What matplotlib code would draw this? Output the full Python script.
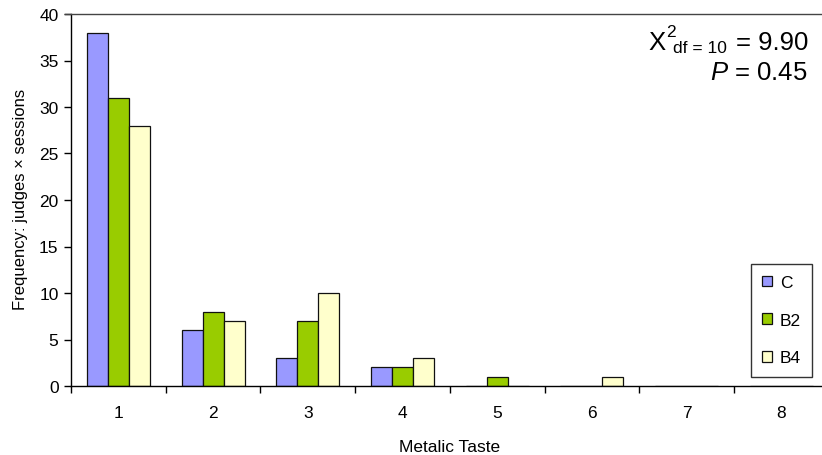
import matplotlib
matplotlib.use("Agg")
import matplotlib.pyplot as plt
from matplotlib.patches import Patch
from matplotlib.lines import Line2D
import numpy as np

plt.rcParams['font.family'] = ['Liberation Sans', 'DejaVu Sans']
plt.rcParams['mathtext.fontset'] = 'custom'
plt.rcParams['mathtext.rm'] = 'Liberation Sans'
plt.rcParams['mathtext.it'] = 'Liberation Sans:italic'
plt.rcParams['mathtext.default'] = 'regular'

categories = [1, 2, 3, 4, 5, 6, 7, 8]
series_names = ['C', 'B2', 'B4']
values_c = [38, 6, 3, 2, 0, 0, 0, 0]
values_b2 = [31, 8, 7, 2, 1, 0, 0, 0]
values_b4 = [28, 7, 10, 3, 0, 1, 0, 0]
colors = ['#9999FF', '#99CC00', '#FFFFCC']
y_ticks = [0, 5, 10, 15, 20, 25, 30, 35, 40]

W, H = 822, 456
fig = plt.figure(figsize=(W / 100, H / 100), dpi=100)


def fx(px):
    return px / W


def fy(py):
    return 1 - py / H


left_px, right_px, top_px, bottom_px = 71, 828.7, 15, 387
ax = fig.add_axes([fx(left_px), fy(bottom_px),
                   (right_px - left_px) / W, (bottom_px - top_px) / H])

x = np.arange(len(categories)) + 1
bw = 0.222
for i, (vals, col) in enumerate(zip([values_c, values_b2, values_b4], colors)):
    ax.bar(x + (i - 1) * bw, vals, width=bw, color=col,
           edgecolor='#111111', linewidth=0.9, zorder=3)

ax.set_xlim(0.5, len(categories) + 0.5)
ax.set_ylim(0, 40)
ax.set_yticks(y_ticks)
ax.set_xticks(x)
ax.set_xticklabels([str(c) for c in categories])
ax.set_xticks(np.arange(len(categories) + 1) + 0.5, minor=True)

for s in ['top', 'right']:
    ax.spines[s].set_visible(False)
for s in ['left', 'bottom']:
    ax.spines[s].set_color('#000000')
    ax.spines[s].set_linewidth(1.0)
    ax.spines[s].set_zorder(4)

ax.tick_params(axis='y', direction='out', length=5, width=1, pad=4,
               labelsize=12.5, colors='#000000')
ax.tick_params(axis='x', which='major', length=0, pad=13.5, labelsize=12.5)
ax.tick_params(axis='x', which='minor', direction='out', length=5, width=1,
               color='#000000')

# frame line across the top of the chart
fig.add_artist(Line2D([fx(65), 1.0], [fy(15), fy(15)],
                      color='#444444', linewidth=1.0))

fig.text(fx(450), fy(452), 'Metalic Taste', ha='center', va='baseline',
         fontsize=12.5)
fig.text(fx(21), fy(199), 'Frequency: judges \u00d7 sessions',
         ha='center', va='center', rotation=90, fontsize=12)

# chi-square statistic, assembled from pieces
big = 18.5
small = 12.5
fig.text(fx(808), fy(50), '= 9.90', ha='right', va='baseline', fontsize=big)
fig.text(fx(727), fy(53), 'df = 10', ha='right', va='baseline', fontsize=small)
fig.text(fx(666), fy(50), 'X', ha='right', va='baseline', fontsize=big)
fig.text(fx(666), fy(37), '2', ha='left', va='baseline', fontsize=small)
fig.text(fx(808), fy(80), r'$\mathit{P}$ = 0.45', ha='right',
         va='baseline', fontsize=big)

handles = [Patch(facecolor=c, edgecolor='#111111', linewidth=0.9)
           for c in colors]
leg = fig.legend(handles, series_names, loc='upper left',
                 bbox_to_anchor=(fx(751), fy(265)), fontsize=12.5,
                 handlelength=0.55, handleheight=0.55, handletextpad=0.45,
                 labelspacing=1.3, borderpad=0.65, borderaxespad=0,
                 frameon=True, fancybox=False, shadow=False)
leg.get_frame().set_edgecolor('#000000')
leg.get_frame().set_linewidth(1.0)

fig.savefig('out.png', dpi=100)
